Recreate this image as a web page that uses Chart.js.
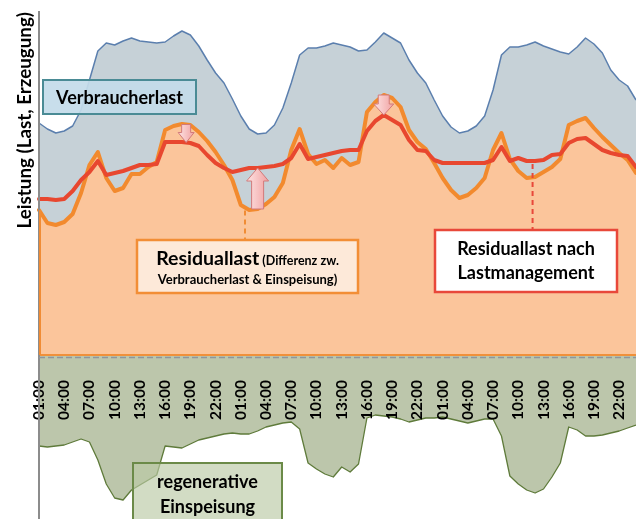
<!DOCTYPE html>
<html>
<head>
<meta charset="utf-8">
<script src="https://cdn.jsdelivr.net/npm/chart.js@4/dist/chart.umd.min.js"></script>
<style>html,body{margin:0;padding:0;background:#fff}canvas{display:block}</style>
</head>
<body>
<canvas id="c" width="636" height="519"></canvas>
<script>
// ---- data (arbitrary power units) ----
const hours = [
  "01:00","02:00","03:00","04:00","05:00","06:00","07:00","08:00","09:00","10:00","11:00","12:00",
  "13:00","14:00","15:00","16:00","17:00","18:00","19:00","20:00","21:00","22:00","23:00","00:00",
  "01:00","02:00","03:00","04:00","05:00","06:00","07:00","08:00","09:00","10:00","11:00","12:00",
  "13:00","14:00","15:00","16:00","17:00","18:00","19:00","20:00","21:00","22:00","23:00","00:00",
  "01:00","02:00","03:00","04:00","05:00","06:00","07:00","08:00","09:00","10:00","11:00","12:00",
  "13:00","14:00","15:00","16:00","17:00","18:00","19:00","20:00","21:00","22:00","23:00","00:00"
];
const verbraucherlast = [
  232,226,222,224,229,245,275,304,312,310,
  314,317,314,313,312,313,319,324,320,309,
  295,282,272,256,239,226,221,222,230,247,
  272,300,307,307,309,312,310,308,304,305,
  313,322,317,312,295,282,272,255,239,228,
  222,224,229,239,265,300,308,308,310,313,
  309,306,303,301,308,317,311,302,285,275,
  269,255
];
const residuallast = [
  145,132,130,133,141,162,190,203,177,164,
  167,181,181,188,193,225,229,231,230,223,
  214,203,190,175,150,145,146,151,158,172,
  205,226,201,191,195,187,197,190,193,243,
  253,260,257,248,225,213,206,192,177,165,
  157,160,167,177,205,222,196,184,177,178,
  183,188,196,230,234,237,227,218,210,202,
  195,182
];
const residuallastLM = [
  156,156,155,156,164,175,183,194,180,182,
  184,187,190,190,191,213,213,213,212,209,
  200,192,187,183,185,187,187,188,189,191,
  197,211,196,198,200,202,204,205,205,224,
  234,240,235,230,215,205,204,195,192,192,
  192,192,192,192,195,208,194,197,194,194,
  195,200,201,212,216,217,211,205,202,200,
  199,188
];
const einspeisung = [
  -91,-92,-91,-90,-87,-84,-87,-105,-129,-143,
  -145,-135,-130,-125,-120,-91,-92,-93,-89,-85,
  -83,-81,-79,-78,-79,-79,-76,-72,-70,-68,
  -67,-74,-108,-114,-119,-122,-112,-117,-109,-63,
  -60,-61,-62,-64,-67,-65,-63,-63,-62,-64,
  -66,-68,-66,-64,-64,-81,-121,-129,-135,-138,
  -134,-122,-108,-72,-75,-81,-81,-80,-78,-76,
  -73,-70
];

// ---- annotation settings ----
const FONT = 'Lato, "Open Sans", sans-serif';
const arrows = [
  {idx: 17.5, headW: 16, shaftW: 9, headLen: 10},
  {idx: 26, headW: 22, shaftW: 12, headLen: 13},
  {idx: 41, headW: 20, shaftW: 11, headLen: 11}
];
const leaders = [
  {idx: 24.5, series: residuallast, toY: 240, color: '#f08c35'},
  {idx: 58.7, series: residuallastLM, toY: 230, color: '#e8483a'}
];
const boxes = [
  {x: 43, y: 80, w: 153, h: 34, fill: 'rgba(196,219,234,0.93)', stroke: '#4a8b95', lw: 2,
   lines: [{y: 104, runs: [{t: 'Verbraucherlast', s: 18}]}]},
  {x: 137, y: 240, w: 221, h: 53, fill: '#fde9d9', stroke: '#f28e36', lw: 2.5,
   lines: [{y: 265, runs: [{t: 'Residuallast', s: 19.5}, {t: ' (Differenz zw.', s: 12.5}]},
           {y: 284, runs: [{t: 'Verbraucherlast & Einspeisung)', s: 13}]}]},
  {x: 435, y: 230, w: 182, h: 62, fill: '#ffffff', stroke: '#e8483a', lw: 2.5,
   lines: [{y: 255, runs: [{t: 'Residuallast nach', s: 18}]},
           {y: 279, runs: [{t: 'Lastmanagement', s: 18}]}]},
  {x: 133, y: 463, w: 149, h: 70, fill: 'rgba(186,202,164,0.65)', stroke: '#6b8a48', lw: 2,
   lines: [{y: 488, runs: [{t: 'regenerative', s: 18}]},
           {y: 513, runs: [{t: 'Einspeisung', s: 18}]}]}
];

function valAt(arr, idx) {
  const i0 = Math.floor(idx), f = idx - i0;
  return i0 + 1 < arr.length ? arr[i0] * (1 - f) + arr[i0 + 1] * f : arr[i0];
}

function drawArrow(ctx, cx, yTail, yTip, headW, shaftW, headLen) {
  const dir = yTip > yTail ? 1 : -1;
  const yNeck = yTip - dir * headLen;
  const g = ctx.createLinearGradient(cx - headW / 2, 0, cx + headW / 2, 0);
  g.addColorStop(0, '#fde3e3');
  g.addColorStop(1, '#f1a2a2');
  ctx.beginPath();
  ctx.moveTo(cx - shaftW / 2, yTail);
  ctx.lineTo(cx + shaftW / 2, yTail);
  ctx.lineTo(cx + shaftW / 2, yNeck);
  ctx.lineTo(cx + headW / 2, yNeck);
  ctx.lineTo(cx, yTip);
  ctx.lineTo(cx - headW / 2, yNeck);
  ctx.lineTo(cx - shaftW / 2, yNeck);
  ctx.closePath();
  ctx.fillStyle = g;
  ctx.fill();
  ctx.lineWidth = 1;
  ctx.strokeStyle = '#d27a7a';
  ctx.stroke();
}

const annoPlugin = {
  id: 'anno',
  afterDraw(chart) {
    const {ctx, chartArea: ca, scales: {x, y}} = chart;
    const y0 = y.getPixelForValue(0);
    ctx.save();
    // dashed grey axis line just below the zero line
    ctx.strokeStyle = '#8e959b';
    ctx.lineWidth = 1.5;
    ctx.setLineDash([6, 3]);
    ctx.beginPath();
    ctx.moveTo(ca.left, y0 + 2.5);
    ctx.lineTo(ca.right, y0 + 2.5);
    ctx.stroke();
    ctx.setLineDash([]);
    // left outline of the orange area
    const xl = x.getPixelForValue(0) + 1;
    ctx.strokeStyle = '#f08c35';
    ctx.lineWidth = 2;
    ctx.beginPath();
    ctx.moveTo(xl, y.getPixelForValue(residuallast[0]));
    ctx.lineTo(xl, y0);
    ctx.stroke();
    // leader lines
    leaders.forEach(l => {
      const px = x.getPixelForValue(l.idx);
      ctx.strokeStyle = l.color;
      ctx.lineWidth = 2;
      ctx.setLineDash([5, 4]);
      ctx.beginPath();
      ctx.moveTo(px, y.getPixelForValue(valAt(l.series, l.idx)) + 3);
      ctx.lineTo(px, l.toY);
      ctx.stroke();
    });
    ctx.setLineDash([]);
    // arrows from Residuallast to Residuallast nach Lastmanagement
    arrows.forEach(a => {
      const px = x.getPixelForValue(a.idx);
      drawArrow(ctx, px, y.getPixelForValue(valAt(residuallast, a.idx)),
        y.getPixelForValue(valAt(residuallastLM, a.idx)), a.headW, a.shaftW, a.headLen);
    });
    // text boxes
    boxes.forEach(b => {
      ctx.fillStyle = b.fill;
      ctx.fillRect(b.x, b.y, b.w, b.h);
      ctx.lineWidth = b.lw;
      ctx.strokeStyle = b.stroke;
      ctx.strokeRect(b.x, b.y, b.w, b.h);
      ctx.fillStyle = '#000';
      ctx.textBaseline = 'alphabetic';
      ctx.textAlign = 'left';
      b.lines.forEach(line => {
        let total = 0;
        line.runs.forEach(r => {
          ctx.font = 'bold ' + r.s + 'px ' + FONT;
          r.w = ctx.measureText(r.t).width;
          total += r.w;
        });
        let cx = b.x + b.w / 2 - total / 2;
        line.runs.forEach(r => {
          ctx.font = 'bold ' + r.s + 'px ' + FONT;
          ctx.fillText(r.t, cx, line.y);
          cx += r.w;
        });
      });
    });
    ctx.restore();
  }
};

new Chart(document.getElementById('c'), {
  type: 'line',
  data: {
    labels: hours,
    datasets: [
      {label: 'Residuallast nach Lastmanagement', data: residuallastLM, borderColor: '#e8472f',
       borderWidth: 4, fill: false, pointRadius: 0, tension: 0, borderJoinStyle: 'round', borderCapStyle: 'round'},
      {label: 'Residuallast', data: residuallast, borderColor: '#f28a2e', backgroundColor: '#fbc59b',
       borderWidth: 4, fill: 'origin', pointRadius: 0, tension: 0, borderJoinStyle: 'round', borderCapStyle: 'round'},
      {label: 'Verbraucherlast', data: verbraucherlast, borderColor: '#5b7fae', backgroundColor: '#c6d1d7',
       borderWidth: 1.5, fill: 'origin', pointRadius: 0, tension: 0, borderJoinStyle: 'round'},
      {label: 'regenerative Einspeisung', data: einspeisung, borderColor: '#5f7b3b', backgroundColor: '#bcc6ab',
       borderWidth: 1.3, fill: 'origin', pointRadius: 0, tension: 0, borderJoinStyle: 'round'}
    ]
  },
  options: {
    responsive: false,
    animation: false,
    layout: {padding: {top: 12, left: 0, right: 0, bottom: 0}},
    plugins: {legend: {display: false}, tooltip: {enabled: false}},
    scales: {
      x: {
        position: {y: 0},
        grid: {display: false},
        border: {display: true, color: '#f0903a', width: 2, z: 1},
        ticks: {
          autoSkip: false, maxRotation: 90, minRotation: 90, padding: 17, color: '#000', z: 1,
          font: {family: FONT, weight: 'bold', size: 15.5},
          callback: (v, i) => (i % 3 === 0 ? hours[i] : '')
        },
        afterFit: s => { s.height = 0; s.paddingLeft = 0; s.paddingRight = 0; }
      },
      y: {
        min: -164, max: 343,
        grid: {display: false},
        ticks: {display: false},
        border: {display: true, color: '#8c8c8c', width: 2, z: 1},
        title: {display: true, text: 'Leistung (Last, Erzeugung)', align: 'end', color: '#000',
                font: {family: FONT, weight: 'bold', size: 18.8}, padding: {top: 14, bottom: 0}},
        afterFit: s => { s.width = 39; s.paddingTop = 0; s.paddingBottom = 0; }
      }
    }
  },
  plugins: [annoPlugin]
});
</script>
</body>
</html>
